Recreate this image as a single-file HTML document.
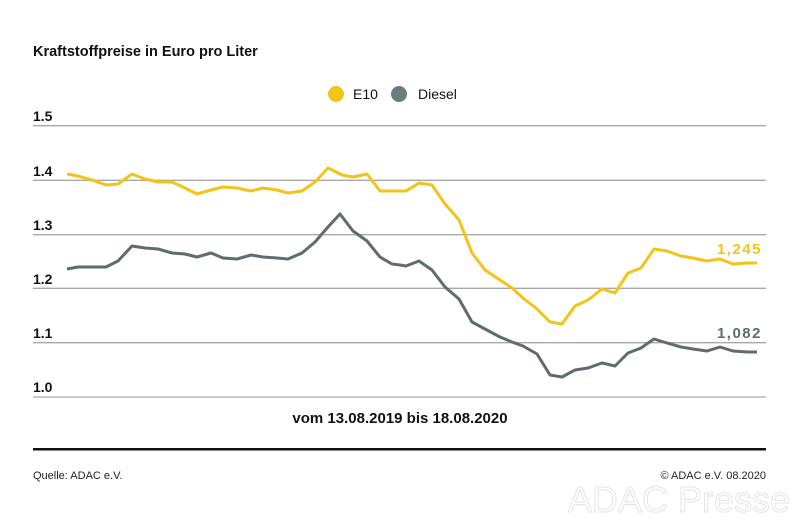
<!DOCTYPE html>
<html><head><meta charset="utf-8"><style>
body{margin:0;background:#fff;}
svg{display:block;font-family:"Liberation Sans",sans-serif;}
</style></head><body>
<svg width="800" height="532" viewBox="0 0 800 532">
<text x="33" y="56" font-size="14.5" font-weight="bold" fill="#111">Kraftstoffpreise in Euro pro Liter</text>
<circle cx="336" cy="94" r="8" fill="#f2c418"/>
<text x="353" y="99" font-size="14" fill="#111">E10</text>
<circle cx="399" cy="94" r="8" fill="#6e7b7c"/>
<text x="418" y="99" font-size="14" fill="#111">Diesel</text>
<g stroke="#a8a8a8" stroke-width="1.3">
<line x1="33" x2="766" y1="125.7" y2="125.7"/>
<line x1="33" x2="766" y1="180.3" y2="180.3"/>
<line x1="33" x2="766" y1="234.7" y2="234.7"/>
<line x1="33" x2="766" y1="288.3" y2="288.3"/>
<line x1="33" x2="766" y1="342.7" y2="342.7"/>
<line x1="33" x2="766" y1="397" y2="397"/>
</g>
<g font-size="14" font-weight="bold" fill="#111">
<text x="33" y="121">1.5</text>
<text x="33" y="176">1.4</text>
<text x="33" y="230">1.3</text>
<text x="33" y="284">1.2</text>
<text x="33" y="338">1.1</text>
<text x="33" y="392">1.0</text>
</g>
<polyline fill="none" stroke="#f2c418" stroke-width="3" stroke-linejoin="round" points="67,174 78,176 92,180 106,185 118,184 132,174 145,179 158,182 172,182 185,188 197,194 211,190 223,187 237,188 251,191 263,188 277,190 288,193 302,191 315,182 328,168 342,175 353,177 367,174 380,191 392,191 400,191 406,191 419,183 432,185 445,204 459,220 472,253 485,270 500,280 512,288 523,298 537,309 550,322 562,324 575,306 588,300 602,289 615,293 628,273 641,268 654,249 667,251 681,256 693,258 707,261 720,259 733,264 747,263 757,263"/>
<polyline fill="none" stroke="#5f6b6d" stroke-width="3" stroke-linejoin="round" points="67,269 78,267 106,267 118,261 132,246 145,248 158,249 172,253 185,254 197,257 211,253 223,258 237,259 251,255 263,257 277,258 288,259 302,253 315,242 328,227 340,214 353,231 367,241 380,257 392,264 400,265 406,266 419,261 432,270 445,287 459,299 472,322 485,329 500,337 512,342 523,346 537,354 550,375 562,377 575,370 588,368 602,363 615,366 628,353 641,348 654,339 667,343 681,347 693,349 707,351 720,347 733,351 747,352 757,352"/>
<text x="762" y="254" font-size="15" font-weight="bold" fill="#f2c418" text-anchor="end" letter-spacing="1.5">1,245</text>
<text x="762" y="338" font-size="15" font-weight="bold" fill="#5f6b6d" text-anchor="end" letter-spacing="1.5">1,082</text>
<text x="400" y="423" font-size="15" font-weight="bold" fill="#111" text-anchor="middle">vom 13.08.2019 bis 18.08.2020</text>
<rect x="33" y="448" width="733" height="2.5" fill="#111"/>
<text x="33" y="479" font-size="11" fill="#222">Quelle: ADAC e.V.</text>
<text x="766" y="479" font-size="11" fill="#222" text-anchor="end">© ADAC e.V. 08.2020</text>
<text x="790" y="512" font-size="36" fill="#fff" stroke="#e4e4e4" stroke-width="1" text-anchor="end">ADAC Presse</text>
</svg>
</body></html>
